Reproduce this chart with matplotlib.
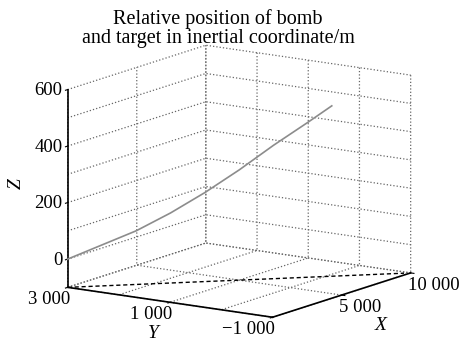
import matplotlib
matplotlib.use("Agg")
import matplotlib.pyplot as plt
import matplotlib.transforms as mtransforms

plt.rcParams['font.family'] = ['Liberation Serif', 'DejaVu Serif']
plt.rcParams['font.size'] = 13.5
plt.rcParams['grid.linestyle'] = ':'
plt.rcParams['grid.color'] = '0.4'
plt.rcParams['grid.linewidth'] = 0.9

# 弹目相对位置（惯性系，m）
bomb_x = [0, 1000, 2000, 3000, 4000, 5000, 6000, 7000, 7700]
bomb_y = [3000, 2600, 2200, 1800, 1400, 1000, 600, 200, -80]
bomb_z = [0, 45, 90, 148, 215, 290, 372, 448, 503]

# 地面投影线
track_x = [0, 10000]
track_y = [3000, -1000]
track_z = [-100, -100]

x_ticks = [0, 5000, 10000]
x_labels = ['', '5 000', '10 000']
y_ticks = [-1000, 0, 1000, 2000, 3000]
y_labels = ['\u22121 000', '', '1 000', '', '3 000']
z_ticks = [-100, 0, 100, 200, 300, 400, 500, 600]
z_labels = ['', '0', '', '200', '', '400', '', '600']

fig = plt.figure(figsize=(4.62, 3.38), dpi=100)
ax = fig.add_axes([0.142, -0.0497, 0.7316, 1.0], projection='3d', proj_type='ortho')
ax.view_init(elev=12.5, azim=-146)
ax.set_box_aspect((1, 1, 0.82), zoom=1.16)

ax.plot(bomb_x, bomb_y, bomb_z, color='0.55', lw=1.2)
ax.plot(track_x, track_y, track_z, color='k', ls=(0, (3, 2)), lw=1.0)

ax.set_xlim(0, 10000)
ax.set_ylim(-1000, 3000)
ax.set_zlim(-100, 600)
ax.set_xticks(x_ticks)
ax.set_yticks(y_ticks)
ax.set_zticks(z_ticks)
ax.set_xticklabels([])
ax.set_yticklabels([])
ax.set_zticklabels([])

for axis in (ax.xaxis, ax.yaxis, ax.zaxis):
    axis.set_pane_color((1, 1, 1, 0))
    axis.pane.set_edgecolor((1, 1, 1, 0))
    axis.line.set_color('k')
    axis.line.set_linewidth(1.2)
    axis._axinfo['tick']['inward_factor'] = 0.2
    axis._axinfo['tick']['outward_factor'] = 0.0

# 只在有标注的刻度处画刻度线
for axis, labels in ((ax.xaxis, x_labels), (ax.yaxis, y_labels), (ax.zaxis, z_labels)):
    for tick, lab in zip(axis.get_major_ticks(), labels):
        if not lab:
            tick.tick1line.set_color((0, 0, 0, 0))


def shifted(dx, dy):
    # 在数据坐标基础上按像素平移
    return ax.transData + mtransforms.ScaledTranslation(dx / 100, dy / 100, fig.dpi_scale_trans)


# 刻度标签
for v, lab in zip(z_ticks, z_labels):
    if lab:
        ax.text(0, 3000, v, lab, ha='right', va='center', transform=shifted(-5, -1))
for v, lab in zip(y_ticks, y_labels):
    if lab:
        ax.text(0, v, -100, lab, ha='right', va='top', transform=shifted(2.5, -4))
for v, lab in zip(x_ticks, x_labels):
    if lab:
        ax.text(v, -1000, -100, lab, ha='left', va='top', transform=shifted(-3, -4))

# 坐标轴名称
fig.text(16.5 / 462, 1 - 184 / 338, 'Z', rotation=90, ha='center', va='center',
         fontsize=14, fontstyle='italic')
fig.text(153 / 462, 1 - 333 / 338, 'Y', ha='center', va='center',
         fontsize=14, fontstyle='italic')
fig.text(381 / 462, 1 - 325 / 338, 'X', ha='center', va='center',
         fontsize=14, fontstyle='italic')

fig.text(218 / 462, 0.972, 'Relative position of bomb\nand target in inertial coordinate/m',
         ha='center', va='top', fontsize=14.5, linespacing=1.0)

fig.savefig('out.png', dpi=100)
